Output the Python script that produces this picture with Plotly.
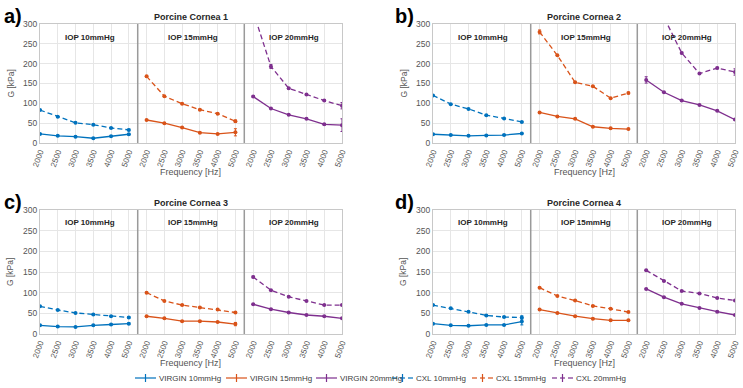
import plotly.graph_objects as go

# ---- data -------------------------------------------------------------
freq_labels = ["2000", "2500", "3000", "3500", "4000", "5000"]
iop_labels = ["IOP 10mmHg", "IOP 15mmHg", "IOP 20mmHg"]
cornea_titles = ["Porcine Cornea 1", "Porcine Cornea 2", "Porcine Cornea 3", "Porcine Cornea 4"]
panel_letters = ["a)", "b)", "c)", "d)"]

# shear modulus G [kPa], one row per IOP level (10, 15, 20 mmHg)
virgin_c1 = [[23, 18, 16, 12, 17, 22], [58, 50, 39, 26, 23, 27], [117, 87, 71, 61, 47, 45]]
cxl_c1 = [[83, 66, 51, 46, 38, 33], [168, 118, 99, 84, 74, 55], [331, 193, 138, 122, 107, 94]]
virgin_c2 = [[22, 20, 18, 19, 20, 24], [77, 67, 61, 41, 37, 35], [159, 128, 107, 96, 81, 59]]
cxl_c2 = [[120, 98, 86, 70, 62, 53], [280, 221, 153, 143, 113, 126], [380, 317, 227, 175, 189, 179]]
virgin_c3 = [[21, 18, 17, 21, 23, 25], [43, 38, 31, 31, 29, 24], [72, 60, 52, 46, 43, 38]]
cxl_c3 = [[67, 58, 51, 47, 43, 40], [100, 80, 70, 64, 59, 52], [138, 106, 90, 80, 70, 70]]
virgin_c4 = [[25, 21, 20, 22, 22, 30], [59, 51, 43, 37, 33, 33], [109, 89, 73, 63, 54, 46]]
cxl_c4 = [[70, 62, 54, 45, 41, 40], [112, 92, 81, 68, 61, 53], [154, 128, 104, 98, 87, 81]]

# standard deviations [kPa]
virgin_err_c1 = [[1, 1, 1, 1, 1, 2], [1, 1, 1, 1, 1, 9], [2, 1, 1, 1, 2, 16]]
cxl_err_c1 = [[1, 1, 1, 1, 1, 2], [2, 1, 1, 1, 1, 3], [3, 5, 2, 1, 1, 8]]
virgin_err_c2 = [[1, 1, 1, 1, 1, 1], [1, 1, 1, 1, 1, 1], [8, 1, 1, 1, 1, 2]]
cxl_err_c2 = [[1, 1, 1, 1, 1, 1], [5, 1, 1, 1, 1, 2], [3, 3, 2, 2, 2, 8]]
virgin_err_c3 = [[1, 1, 1, 1, 1, 2], [1, 1, 1, 1, 1, 4], [1, 1, 1, 1, 1, 1]]
cxl_err_c3 = [[1, 1, 1, 1, 1, 2], [1, 1, 1, 1, 1, 1], [2, 1, 1, 1, 1, 1]]
virgin_err_c4 = [[1, 1, 1, 1, 1, 8], [1, 1, 1, 1, 1, 1], [1, 1, 1, 1, 1, 1]]
cxl_err_c4 = [[1, 1, 1, 1, 1, 4], [1, 1, 1, 1, 1, 1], [1, 1, 1, 1, 1, 1]]

virgin = [virgin_c1, virgin_c2, virgin_c3, virgin_c4]
cxl = [cxl_c1, cxl_c2, cxl_c3, cxl_c4]
virgin_err = [virgin_err_c1, virgin_err_c2, virgin_err_c3, virgin_err_c4]
cxl_err = [cxl_err_c1, cxl_err_c2, cxl_err_c3, cxl_err_c4]

pressures = ["10mmHg", "15mmHg", "20mmHg"]
groups = ["VIRGIN", "CXL"]
colors = ["#0072BD", "#D95319", "#7E2F8E"]
DASH = "5px,3px"

# ---- layout helpers (pixel -> paper) -----------------------------------
W, H = 743, 388
FONT = "Liberation Sans, Arial, sans-serif"


def px(x):
    return x / W


def py(y):
    return 1 - y / H


# plot boxes: (left, right, top, bottom) in pixels
boxes = [(40, 342, 24, 143), (433, 735, 24, 143), (40, 342, 210, 334), (433, 735, 210, 334)]

n = len(freq_labels)
tickvals = list(range(1, 3 * n + 1))
ticktext = freq_labels * 3

fig = go.Figure()
layout = dict(
    width=W, height=H,
    margin=dict(l=0, r=0, t=0, b=0),
    paper_bgcolor="white", plot_bgcolor="white",
    font=dict(family=FONT, color="#404040"),
    showlegend=False,
)
annotations = []
shapes = []

for p, (l, r, t, b) in enumerate(boxes):
    xa = "xaxis" if p == 0 else f"xaxis{p + 1}"
    ya = "yaxis" if p == 0 else f"yaxis{p + 1}"
    xr = "x" if p == 0 else f"x{p + 1}"
    yr = "y" if p == 0 else f"y{p + 1}"
    layout[xa] = dict(
        domain=[px(l), px(r)], anchor=yr, range=[1, 3 * n],
        tickmode="array", tickvals=tickvals, ticktext=ticktext,
        tickangle=-70, tickfont=dict(size=8, color="#555555"),
        ticklabeloverflow="allow",
        showgrid=True, gridcolor="#e6e6e6", gridwidth=1,
        showline=True, linecolor="#c8c8c8", linewidth=1, mirror=True,
        ticks="", zeroline=False, automargin=False,
    )
    layout[ya] = dict(
        domain=[py(b), py(t)], anchor=xr, range=[0, 300],
        tickmode="array", tickvals=list(range(0, 301, 50)),
        tickfont=dict(size=8.5, color="#555555"),
        showgrid=True, gridcolor="#e6e6e6", gridwidth=1,
        showline=True, linecolor="#c8c8c8", linewidth=1, mirror=True,
        ticks="", zeroline=False, automargin=False,
    )

    for k in range(3):
        xs = [i + 1 + k * n for i in range(n)]
        for vals, errs, dash in ((virgin[p][k], virgin_err[p][k], "solid"),
                                 (cxl[p][k], cxl_err[p][k], DASH)):
            fig.add_trace(go.Scatter(
                x=xs, y=vals, xaxis=xr, yaxis=yr,
                mode="lines+markers",
                line=dict(color=colors[k], width=1.3, dash=dash),
                marker=dict(color=colors[k], size=4),
                error_y=dict(type="data", array=errs, color=colors[k], thickness=1, width=1.5),
                showlegend=False, hoverinfo="skip",
            ))

    # sub-panel separators
    for xs in (n + 0.5, 2 * n + 0.5):
        shapes.append(dict(type="line", xref=xr, yref=f"{yr} domain", x0=xs, x1=xs, y0=0, y1=1,
                           line=dict(color="#9a9a9a", width=1.5)))

    # IOP labels
    for k, xpos in enumerate((3.8, 9.6, 15.3)):
        annotations.append(dict(text=f"<b>{iop_labels[k]}</b>", x=xpos, xref=xr,
                                y=py(t + 13), yref="paper", showarrow=False,
                                font=dict(size=8, color="#262626"), xanchor="center", yanchor="middle"))

    cx = (l + r) / 2
    annotations.append(dict(text=f"<b>{cornea_titles[p]}</b>", x=px(cx), y=py(t - 7), xref="paper", yref="paper",
                            showarrow=False, font=dict(size=9, color="#262626"), xanchor="center", yanchor="middle"))
    annotations.append(dict(text="Frequency [Hz]", x=px(cx), y=py(b + 29), xref="paper", yref="paper",
                            showarrow=False, font=dict(size=9, color="#555555"), xanchor="center", yanchor="middle"))
    annotations.append(dict(text="G [kPa]", x=px(l - 30), y=py((t + b) / 2), xref="paper", yref="paper",
                            textangle=-90, showarrow=False, font=dict(size=8.5, color="#555555"),
                            xanchor="center", yanchor="middle"))
    letter_x = 2 if l < 100 else 393
    annotations.append(dict(text=f"<b>{panel_letters[p]}</b>", x=px(letter_x), y=py(t - 8),
                            xref="paper", yref="paper", showarrow=False,
                            font=dict(size=20, color="#000000"), xanchor="left", yanchor="middle"))

# ---- shared legend along the bottom ---------------------------------------
legend_y = 378
legend_starts = [135, 226, 316, 392, 472, 552]   # left edge of each entry, px
SYM = 21                                        # length of the legend line sample
entry = 0
for g, group in enumerate(groups):
    for k in range(3):
        x0 = legend_starts[entry]
        entry += 1
        c = colors[k]
        if group == "VIRGIN":
            shapes.append(dict(type="line", xref="paper", yref="paper", x0=px(x0), x1=px(x0 + SYM),
                               y0=py(legend_y), y1=py(legend_y), line=dict(color=c, width=1.2)))
        else:
            for a, z in ((x0, x0 + 5), (x0 + SYM - 5, x0 + SYM)):
                shapes.append(dict(type="line", xref="paper", yref="paper", x0=px(a), x1=px(z),
                                   y0=py(legend_y), y1=py(legend_y), line=dict(color=c, width=1.2)))
            shapes.append(dict(type="line", xref="paper", yref="paper", x0=px(x0 + 8), x1=px(x0 + SYM - 8),
                               y0=py(legend_y), y1=py(legend_y), line=dict(color=c, width=1.2)))
        mid = x0 + SYM / 2
        shapes.append(dict(type="line", xref="paper", yref="paper", x0=px(mid), x1=px(mid),
                           y0=py(legend_y - 4), y1=py(legend_y + 4), line=dict(color=c, width=1.2)))
        annotations.append(dict(text=f"{group} {pressures[k]}", x=px(x0 + SYM + 1), y=py(legend_y),
                                xref="paper", yref="paper", showarrow=False, xanchor="left",
                                yanchor="middle", font=dict(size=8, color="#404040")))

layout["annotations"] = annotations
layout["shapes"] = shapes
fig.update_layout(**layout)

fig.write_html("out.html")
